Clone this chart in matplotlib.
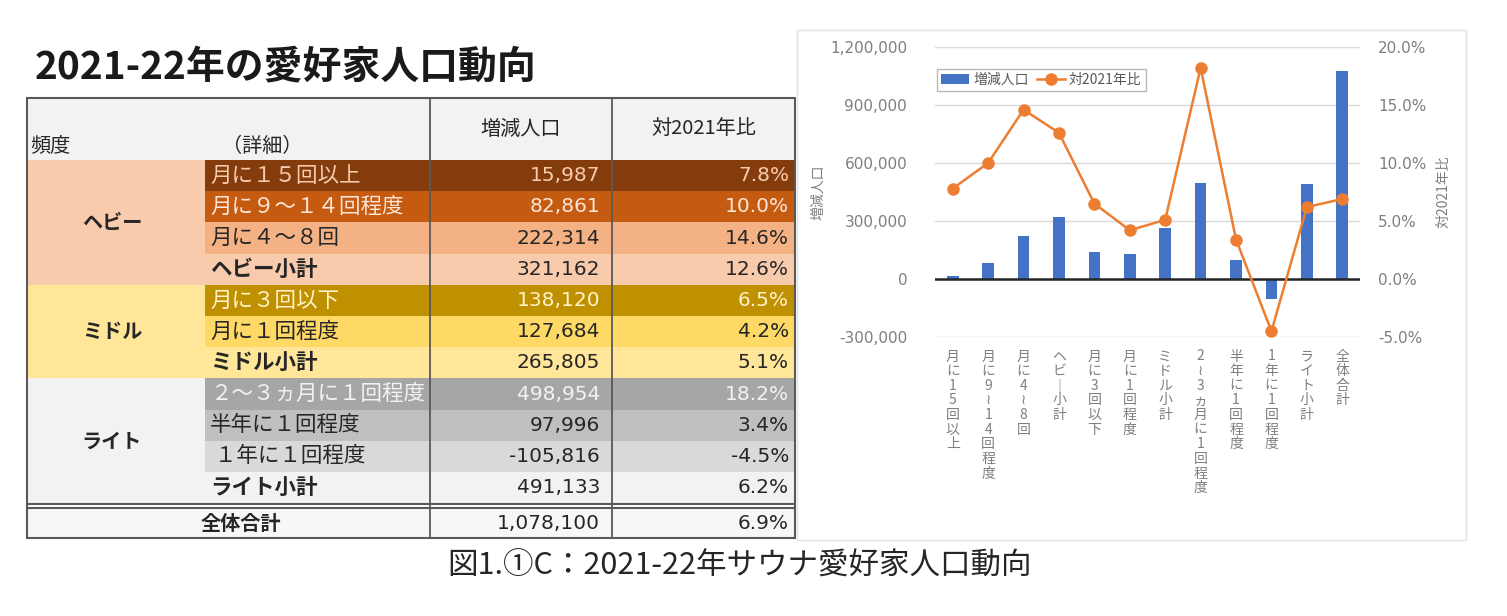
import matplotlib
matplotlib.use('Agg')
import matplotlib.pyplot as plt
from matplotlib.patches import Rectangle
from matplotlib.ticker import FuncFormatter, FixedLocator
import numpy as np

plt.rcParams['font.family'] = ['Noto Sans CJK JP', 'DejaVu Sans']

# ---------------- data ----------------
title = "2021-22年の愛好家人口動向"
caption = "図1.①C：2021-22年サウナ愛好家人口動向"
header_freq = "頻度"
header_detail = "（詳細）"
header_pop = "増減人口"
header_ratio = "対2021年比"
groups = ["ヘビー", "ミドル", "ライト"]
group_sizes = [4, 3, 4]
details = ["月に１５回以上", "月に９～１４回程度", "月に４～８回", "ヘビー小計",
           "月に３回以下", "月に１回程度", "ミドル小計",
           "２～３ヵ月に１回程度", "半年に１回程度", " １年に１回程度", "ライト小計"]
total_label = "全体合計"
chart_labels = ["月に15回以上", "月に9~14回程度", "月に4~8回", "ヘビー小計",
                "月に3回以下", "月に1回程度", "ミドル小計", "2~3ヵ月に1回程度",
                "半年に1回程度", "1年に1回程度", "ライト小計", "全体合計"]
population = [15987, 82861, 222314, 321162, 138120, 127684, 265805,
              498954, 97996, -105816, 491133, 1078100]
ratio = [7.8, 10.0, 14.6, 12.6, 6.5, 4.2, 5.1, 18.2, 3.4, -4.5, 6.2, 6.9]
left_ticks = [-300000, 0, 300000, 600000, 900000, 1200000]
right_ticks = [-5.0, 0.0, 5.0, 10.0, 15.0, 20.0]

# ---------------- styles ----------------
group_bg = ["#F8CBAD", "#FFE699", "#F2F2F2"]
row_bg = ["#843C0C", "#C55A11", "#F4B183", "#F8CBAD",
          "#BF9000", "#FFD966", "#FFE699",
          "#A6A6A6", "#BFBFBF", "#D9D9D9", "#F2F2F2"]
row_fg = ["#F8CBAD", "#FBE5D6", "#262626", "#262626",
          "#FFF2CC", "#262626", "#262626",
          "#F2F2F2", "#262626", "#262626", "#262626"]
row_bold = [False, False, False, True, False, False, True, False, False, False, True]
DARK = "#262626"

W, H = 1507, 616
fig = plt.figure(figsize=(W / 100, H / 100), dpi=100)
fig.patch.set_facecolor("white")

# ---------------- table (pixel-coordinate overlay) ----------------
tab = fig.add_axes([0, 0, 1, 1])
tab.set_xlim(0, W)
tab.set_ylim(H, 0)
tab.axis("off")

x0, x1, x2, x3, x4 = 27, 205, 430, 612, 795
y_top, y_hdr = 98, 160
row_h = 31.2
y_rows_end = y_hdr + row_h * len(details)
y_tot0 = y_rows_end + 5
y_bot = y_tot0 + 30

tab.text(35, 68, title, fontsize=28, fontweight="bold", color="#1a1a1a",
         ha="left", va="center")

# header
tab.add_patch(Rectangle((x0, y_top), x4 - x0, y_hdr - y_top, facecolor="#F2F2F2", edgecolor="none"))
tab.text(30, 146, header_freq, fontsize=14.5, color=DARK, ha="left", va="center")
tab.text(222, 146, header_detail, fontsize=14.5, color=DARK, ha="left", va="center")
tab.text((x2 + x3) / 2, 129, header_pop, fontsize=14.5, color=DARK, ha="center", va="center")
tab.text((x3 + x4) / 2, 129, header_ratio, fontsize=14.5, color=DARK, ha="center", va="center")

# group column + rows
r = 0
for g, n, gc in zip(groups, group_sizes, group_bg):
    gy0 = y_hdr + r * row_h
    tab.add_patch(Rectangle((x0, gy0), x1 - x0, n * row_h, facecolor=gc, edgecolor="none"))
    tab.text((x0 + x1) / 2 - 4, gy0 + n * row_h / 2, g, fontsize=14.5, fontweight="bold",
             color=DARK, ha="center", va="center")
    r += n

for i, (d, bg, fg, b) in enumerate(zip(details, row_bg, row_fg, row_bold)):
    ry = y_hdr + i * row_h
    tab.add_patch(Rectangle((x1, ry), x4 - x1, row_h, facecolor=bg, edgecolor="none"))
    yc = ry + row_h / 2
    tab.text(x1 + 5, yc, d, fontsize=15.5, color=fg, ha="left", va="center",
             fontweight="bold" if b else "normal")
    tab.text(x3 - 12, yc, f"{population[i]:,}", fontsize=14.5, color=fg, ha="right",
             va="center", family="DejaVu Sans")
    tab.text(x4 - 6, yc, f"{ratio[i]:.1f}%", fontsize=14.5, color=fg, ha="right",
             va="center", family="DejaVu Sans")

# total row
tab.add_patch(Rectangle((x0, y_tot0), x4 - x0, y_bot - y_tot0, facecolor="#F7F7F7", edgecolor="none"))
yc = (y_tot0 + y_bot) / 2
tab.text((x0 + x2) / 2 + 12, yc, total_label, fontsize=14.5, fontweight="bold", color=DARK,
         ha="center", va="center")
tab.text(x3 - 12, yc, f"{population[-1]:,}", fontsize=14.5, color=DARK, ha="right",
         va="center", family="DejaVu Sans")
tab.text(x4 - 6, yc, f"{ratio[-1]:.1f}%", fontsize=14.5, color=DARK, ha="right",
         va="center", family="DejaVu Sans")

# lines
lc = "#595959"
tab.add_patch(Rectangle((x0, y_top), x4 - x0, y_bot - y_top, facecolor="none", edgecolor=lc, lw=1.5))
for xv in (x2, x3):
    tab.plot([xv, xv], [y_top, y_bot], color=lc, lw=1.3)
tab.plot([x0, x4], [y_rows_end + 0.5, y_rows_end + 0.5], color=lc, lw=1.5)
tab.plot([x0, x4], [y_tot0, y_tot0], color=lc, lw=1.5)

# caption
tab.text(740, 566, caption, fontsize=22, color="#262626", ha="center", va="center")

# chart container
tab.add_patch(Rectangle((797, 30), 1466 - 797, 540 - 30, facecolor="none", edgecolor="#E3E3E3", lw=1))

# ---------------- chart ----------------
ax_l, ax_r, ax_t, ax_b = 935, 1360, 47, 337
ax = fig.add_axes([ax_l / W, 1 - ax_b / H, (ax_r - ax_l) / W, (ax_b - ax_t) / H])
ax.set_zorder(2)
ax.patch.set_alpha(0)
xs = np.arange(len(chart_labels))
bars = ax.bar(xs, population, width=0.33, color="#4472C4", zorder=3, label=header_pop)
ax.set_xlim(-0.5, len(chart_labels) - 0.5)
ax.set_ylim(left_ticks[0], left_ticks[-1])
ax.yaxis.set_major_locator(FixedLocator(left_ticks))
ax.yaxis.set_major_formatter(FuncFormatter(lambda v, p: f"{int(v):,}"))
ax.grid(axis="y", color="#D9D9D9", lw=1, zorder=0)
ax.axhline(0, color="#262626", lw=1.8, zorder=4)
for s in ax.spines.values():
    s.set_visible(False)
ax.tick_params(axis="both", length=0, colors="#7F7F7F", labelsize=11)
ax.tick_params(axis="y", pad=20)
for t in ax.get_yticklabels():
    t.set_family("DejaVu Sans")

vmap = {"~": "≀", "ー": "｜"}
def vert(s):
    return "\n".join(vmap.get(c, c) for c in s)
ax.set_xticks(xs)
ax.set_xticklabels([vert(c) for c in chart_labels], va="top", fontsize=10,
                   color="#7F7F7F", linespacing=1.06)
ax.tick_params(axis="x", pad=9)

ax2 = ax.twinx()
ax2.set_ylim(right_ticks[0], right_ticks[-1])
ax2.yaxis.set_major_locator(FixedLocator(right_ticks))
ax2.yaxis.set_major_formatter(FuncFormatter(lambda v, p: f"{v:.1f}%"))
line, = ax2.plot(xs, ratio, color="#ED7D31", lw=1.8, marker="o", markersize=8,
                 zorder=5, label=header_ratio)
for s in ax2.spines.values():
    s.set_visible(False)
ax2.tick_params(axis="y", length=0, colors="#7F7F7F", labelsize=11, pad=13)
for t in ax2.get_yticklabels():
    t.set_family("DejaVu Sans")

ax.set_ylabel(header_pop, color="#7F7F7F", fontsize=10)
ax.yaxis.set_label_coords((825 - ax_l) / (ax_r - ax_l), 0.5)
ax2.set_ylabel(header_ratio, color="#7F7F7F", fontsize=10, rotation=90)
ax2.yaxis.set_label_coords((1437 - ax_l) / (ax_r - ax_l), 0.5)

leg = ax2.legend([bars, line], [header_pop, header_ratio], loc="upper left",
                 bbox_to_anchor=(930 / W, 1 - 62 / H), bbox_transform=fig.transFigure,
                 ncol=2, fontsize=10, frameon=True, fancybox=False, handlelength=2.0,
                 handletextpad=0.3, columnspacing=0.6, borderpad=0.3,
                 labelcolor="#595959")
leg.get_frame().set_edgecolor("#A6A6A6")
leg.get_frame().set_linewidth(1)

fig.savefig("out.png", dpi=100, facecolor="white")
